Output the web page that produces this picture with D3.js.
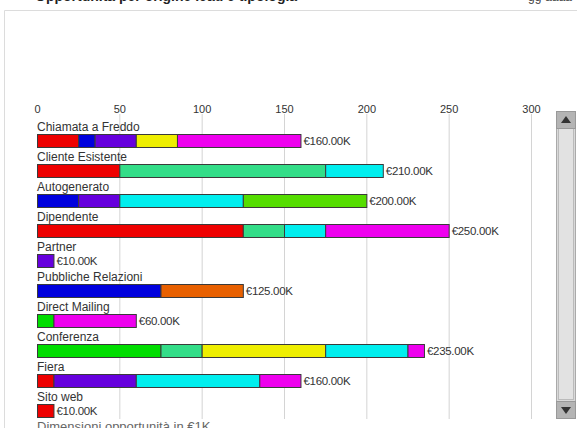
<!DOCTYPE html>
<html>
<head>
<meta charset="utf-8">
<script src="https://cdn.jsdelivr.net/npm/d3@7"></script>
<style>
  body { margin: 0; background: #fff; overflow: hidden; }
  text { font-family: "Liberation Sans", Arial, sans-serif; }
</style>
</head>
<body>
<svg width="577" height="428"></svg>
<script>
var categories = ["Chiamata a Freddo", "Cliente Esistente", "Autogenerato", "Dipendente", "Partner",
  "Pubbliche Relazioni", "Direct Mailing", "Conferenza", "Fiera", "Sito web"];

// segment series, in stacking order
var seriesNames = ["s1", "s2", "s3", "s4", "s5", "s6", "s7", "s8", "s9", "s10"];
var seriesColors = ["#ee0000", "#0000dd", "#6600dd", "#e86000", "#00dd00", "#33dd88", "#eeee00", "#00eeee", "#55dd00", "#ee00ee"];
var s1  = [25, 50, 0, 125, 0, 0, 0, 0, 10, 10];
var s2  = [10, 0, 25, 0, 0, 75, 0, 0, 0, 0];
var s3  = [25, 0, 25, 0, 10, 0, 0, 0, 50, 0];
var s4  = [0, 0, 0, 0, 0, 50, 0, 0, 0, 0];
var s5  = [0, 0, 0, 0, 0, 0, 10, 75, 0, 0];
var s6  = [0, 125, 0, 25, 0, 0, 0, 25, 0, 0];
var s7  = [25, 0, 0, 0, 0, 0, 0, 75, 0, 0];
var s8  = [0, 35, 75, 25, 0, 0, 0, 50, 75, 0];
var s9  = [0, 0, 75, 0, 0, 0, 0, 0, 0, 0];
var s10 = [75, 0, 0, 75, 0, 0, 50, 10, 25, 0];
var seriesValues = [s1, s2, s3, s4, s5, s6, s7, s8, s9, s10];

var tickValues = [0, 50, 100, 150, 200, 250, 300];
var axisTitle = "Dimensioni opportunità in €1K";

var rows = categories.map(function(c, i) {
  var r = { category: c };
  seriesNames.forEach(function(s, j) { r[s] = seriesValues[j][i]; });
  return r;
});
var totals = categories.map(function(c, i) {
  return d3.sum(seriesValues, function(v) { return v[i]; });
});

var svg = d3.select("svg");

// clipped header text
svg.append("text").attr("x", 35).attr("y", 1).attr("font-size", 14).attr("font-weight", "bold")
  .attr("fill", "#222").text("Opportunità per origine lead e tipologia");
svg.append("text").attr("x", 528).attr("y", 1).attr("font-size", 12)
  .attr("fill", "#444").text("gg-aaaa");

// panel border
svg.append("path").attr("d", "M4.5,428 V10.5 H577").attr("fill", "none").attr("stroke", "#dcdcdc");

var x = d3.scaleLinear().domain([0, 300]).range([37, 531]);
var y = d3.scaleBand().domain(categories).range([119, 419]).paddingInner(0);

// gridlines
svg.append("g").selectAll("line").data(tickValues.slice(1)).join("line")
  .attr("x1", function(d) { return x(d) + 0.5; }).attr("x2", function(d) { return x(d) + 0.5; })
  .attr("y1", 114).attr("y2", 419).attr("stroke", "#d4d4d4");

// tick labels via axis
var axis = svg.append("g").attr("transform", "translate(0,113)")
  .call(d3.axisTop(x).tickValues(tickValues).tickSize(0).tickPadding(0));
axis.select(".domain").remove();
axis.selectAll("text").attr("font-size", 11).attr("fill", "#333")
  .style("font-family", "'Liberation Sans', Arial, sans-serif");

var barH = 13;
var stack = d3.stack().keys(seriesNames)(rows);

var g = svg.append("g");
stack.forEach(function(layer, j) {
  g.append("g").selectAll("rect").data(layer.filter(function(d) { return d[1] > d[0]; })).join("rect")
    .attr("x", function(d) { return x(d[0]) + 0.5; })
    .attr("y", function(d) { return y(d.data.category) + 15.5; })
    .attr("width", function(d) { return x(d[1]) - x(d[0]); })
    .attr("height", barH)
    .attr("fill", seriesColors[j])
    .attr("stroke", "#3a3a3a").attr("stroke-width", 1);
});

// category labels
svg.append("g").selectAll("text").data(categories).join("text")
  .attr("x", 37).attr("y", function(d) { return y(d) + 12; })
  .attr("font-size", 12).attr("fill", "#333").text(function(d) { return d; });

// totals
svg.append("g").selectAll("text").data(categories).join("text")
  .attr("x", function(d, i) { return x(totals[i]) + 3; })
  .attr("y", function(d) { return y(d) + 26; })
  .attr("font-size", 11.5).attr("fill", "#333").attr("letter-spacing", -0.3)
  .text(function(d, i) { return "€" + totals[i].toFixed(2) + "K"; });

// axis title, clipped at bottom
svg.append("text").attr("x", 37).attr("y", 431).attr("font-size", 13).attr("fill", "#666").text(axisTitle);

// scrollbar
var sb = svg.append("g");
sb.append("rect").attr("x", 556.5).attr("y", 111.5).attr("width", 19).attr("height", 307)
  .attr("fill", "#d9d9d9").attr("stroke", "#aaa");
sb.append("rect").attr("x", 558.5).attr("y", 128.5).attr("width", 15).attr("height", 271)
  .attr("fill", "#e2e2e2").attr("stroke", "#bbb");
sb.append("rect").attr("x", 556.5).attr("y", 111.5).attr("width", 19).attr("height", 17)
  .attr("fill", "#b4b4b4").attr("stroke", "#999");
sb.append("rect").attr("x", 556.5).attr("y", 401.5).attr("width", 19).attr("height", 17)
  .attr("fill", "#b4b4b4").attr("stroke", "#999");
sb.append("path").attr("d", "M561,123 L566,116 L571,123 Z").attr("fill", "#333");
sb.append("path").attr("d", "M561,407 L566,414 L571,407 Z").attr("fill", "#333");
</script>
</body>
</html>
